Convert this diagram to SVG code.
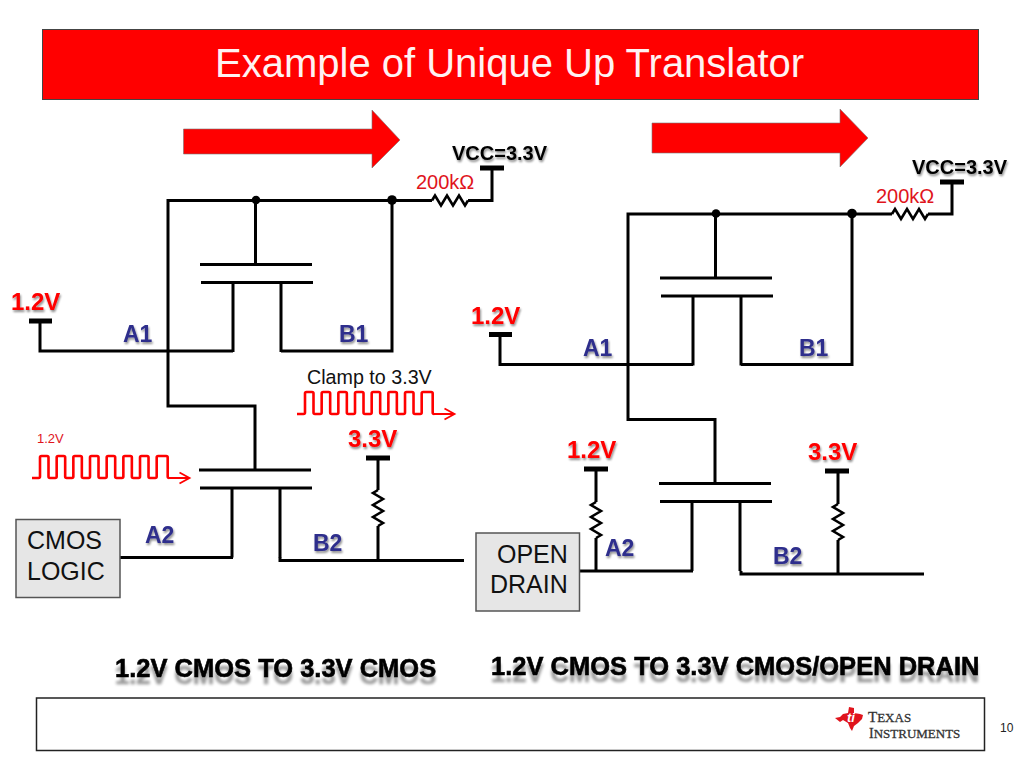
<svg xmlns="http://www.w3.org/2000/svg" xmlns:xlink="http://www.w3.org/1999/xlink" width="1024" height="768" viewBox="0 0 1024 768">
<style>
text{font-family:"Liberation Sans",Arial,sans-serif}
.w{fill:none;stroke:#000;stroke-width:3;stroke-linejoin:miter}
.bar{fill:none;stroke:#000;stroke-width:5}
.res{fill:none;stroke:#000;stroke-width:2.6;stroke-linejoin:miter}
.wave{fill:none;stroke:#f00;stroke-width:2.6}
.tip{fill:none;stroke:#f00;stroke-width:1.800}
.arrow{fill:#f00;stroke:#777;stroke-width:.6}
.v{font-weight:bold;font-size:24px;fill:#f00;filter:url(#sh)}
.pin{font-weight:bold;font-size:23px;fill:#2e2e8c;filter:url(#sh)}
.vcc{font-weight:bold;font-size:20px;fill:#000;filter:url(#sh)}
.ohm{font-size:20px;fill:#e0141c}
.box{fill:#e6e6e6;stroke:#555;stroke-width:1.5}
.lbl{font-size:25px;fill:#111}
.cap{font-weight:bold;font-size:25.5px;fill:#000;stroke:#000;stroke-width:.6;filter:url(#ref)}
.ti{font-family:"Liberation Serif",serif;fill:#333;stroke:#333;stroke-width:.3}
</style>
<defs>
<filter id="sh" x="-10%" y="-20%" width="125%" height="150%"><feGaussianBlur in="SourceAlpha" stdDeviation="1"/><feOffset dx="1" dy="1.5"/><feComponentTransfer><feFuncA type="linear" slope=".45"/></feComponentTransfer><feMerge><feMergeNode/><feMergeNode in="SourceGraphic"/></feMerge></filter>
<filter id="ref" x="-5%" y="-20%" width="110%" height="170%"><feGaussianBlur in="SourceAlpha" stdDeviation="1.6"/><feOffset dy="7"/><feComponentTransfer><feFuncA type="linear" slope=".4"/></feComponentTransfer><feMerge><feMergeNode/><feMergeNode in="SourceGraphic"/></feMerge></filter>
<path id="rh" class="res" d="M0 0L3 -5L9 5L15 -5L21 5L27 -5L33 5L36 0"/>
<path id="rv" class="res" d="M0 0L-5 3L5 9L-5 15L5 21L-5 27L5 33L0 36"/>
<g id="sq"><path class="wave" d="M0 22h6.5q1.500 0 1.500-1.500v-19q0-1.500 1.500-1.500h5.500q1.500 0 1.500 1.500v19q0 1.500 1.500 1.500h5.170q1.500 0 1.500-1.500v-19q0-1.500 1.500-1.500h5.500q1.500 0 1.500 1.500v19q0 1.500 1.500 1.500h5.170q1.500 0 1.500-1.500v-19q0-1.500 1.500-1.500h5.500q1.500 0 1.500 1.500v19q0 1.500 1.500 1.500h5.170q1.500 0 1.500-1.500v-19q0-1.500 1.500-1.500h5.500q1.500 0 1.500 1.500v19q0 1.500 1.500 1.500h5.170q1.500 0 1.500-1.500v-19q0-1.500 1.500-1.500h5.500q1.500 0 1.500 1.500v19q0 1.500 1.500 1.500h5.170q1.500 0 1.500-1.500v-19q0-1.500 1.500-1.500h5.500q1.500 0 1.500 1.500v19q0 1.500 1.500 1.500h5.170q1.500 0 1.500-1.500v-19q0-1.500 1.500-1.500h5.500q1.500 0 1.500 1.500v19q0 1.500 1.500 1.500h5.170q1.500 0 1.500-1.500v-19q0-1.500 1.500-1.500h8q1.500 0 1.500 1.500v19q0 1.500 1.500 1.500"/><path class="tip" d="M137 22H157.500M147.500 16.500l10 5.500-10 5.500"/></g>
<g id="fet"><path class="w" d="M-55 0H57M-54 18H58M-22 18V87.500M26 18V87.500"/></g>
</defs>
<rect id="title-bar" x="42.500" y="29.500" width="936" height="70" fill="#f00" stroke="#444" stroke-width="1"/>
<text x="215" y="77" font-size="40" fill="#fff2f2">Example of Unique Up Translator</text>
<polygon id="arrow-left" class="arrow" points="183.500,129 372,129 372,110 400,140 372,168 372,154 183.500,154"/>
<polygon id="arrow-right" class="arrow" points="652,123 840,123 840,109 868,138 840,167 840,153 652,153"/>
<g id="connectors">
<path class="w" d="M392 200.500H168V406H255V469M255.500 200.500V264M392 200.500V351H281M233 351H40V321"/>
<use xlink:href="#fet" x="255" y="264.500"/>
<path class="w" d="M392 200.500H432M468 200.500H492V168"/>
<use xlink:href="#rh" x="432" y="200.500"/>
<path class="bar" d="M480 168H504M29 321H52M366 458H390"/>
<use xlink:href="#fet" x="254" y="470"/>
<path class="w" d="M120 557.500H233M280 557V560.500H464M378 458V490M378 526V560.500"/>
<use xlink:href="#rv" x="378" y="490"/>

<path class="w" d="M852 214H628V419.500H715V483M715.500 214V278M852 214V364.500H741M693 364.500H500V334.500"/>
<use xlink:href="#fet" x="715" y="278"/>
<path class="w" d="M852 214H892M928 214H952V182"/>
<use xlink:href="#rh" x="892" y="214"/>
<path class="bar" d="M940 182H964M489 334.500H512M584 469H608M825 471H849"/>
<use xlink:href="#fet" x="714" y="483.500"/>
<path class="w" d="M579 571H693M741 571V574H924M596 469V502M596 538V571M838 471V504M838 540V574"/>
<use xlink:href="#rv" x="596" y="502"/>
<use xlink:href="#rv" x="838" y="504"/>
<circle cx="256" cy="200" r="4.300"/><circle cx="392" cy="200" r="4.800"/>
<circle cx="716" cy="213.500" r="4.300"/><circle cx="852" cy="213.500" r="4.800"/>
<use xlink:href="#sq" x="297" y="392"/>
<use xlink:href="#sq" x="32" y="456"/>
</g>
<g id="left-labels">
<text class="vcc" x="452" y="160">VCC=3.3V</text>
<text class="ohm" x="416" y="189">200kΩ</text>
<text class="v" x="11" y="310">1.2V</text>
<text class="pin" x="123" y="342">A1</text>
<text class="pin" x="339" y="342">B1</text>
<text x="307" y="384" font-size="19.700" fill="#111">Clamp to 3.3V</text>
<text class="v" x="348" y="447">3.3V</text>
<text x="37" y="443" font-size="13" fill="#e0141c">1.2V</text>
<text class="pin" x="145" y="543">A2</text>
<text class="pin" x="313" y="551">B2</text>
</g>
<g id="right-labels">
<text class="vcc" x="912" y="174">VCC=3.3V</text>
<text class="ohm" x="876" y="203">200kΩ</text>
<text class="v" x="471" y="324">1.2V</text>
<text class="pin" x="583" y="356">A1</text>
<text class="pin" x="799" y="356">B1</text>
<text class="v" x="567" y="458">1.2V</text>
<text class="v" x="808" y="460">3.3V</text>
<text class="pin" x="605" y="556">A2</text>
<text class="pin" x="773" y="564">B2</text>
</g>
<g id="cmos-logic"><rect class="box" x="16" y="519.500" width="104" height="78"/><text class="lbl" x="27" y="549">CMOS</text><text class="lbl" x="27" y="580">LOGIC</text></g>
<g id="open-drain"><rect class="box" x="476" y="533" width="103.500" height="78"/><text class="lbl" x="497" y="563">OPEN</text><text class="lbl" x="490" y="593">DRAIN</text></g>
<text class="cap" x="115" y="677">1.2V CMOS TO 3.3V CMOS</text>
<text class="cap" x="491" y="675">1.2V CMOS TO 3.3V CMOS/OPEN DRAIN</text>
<g id="footer">
<rect x="36.500" y="698" width="948" height="52.500" fill="#fff" stroke="#222" stroke-width="1.500"/>
<polygon fill="#e0141c" points="849,707 854,708 854,713 860,714 863,715 862,719 858,723 854,726 852,731 850,728 848,723 843,720 840,722 835,718 840,717 843,714 848,713"/>
<text x="847" y="722" font-size="13" font-weight="bold" font-style="italic" fill="#fff">ti</text>
<text class="ti" x="868" y="722" font-size="15">T<tspan font-size="13">EXAS</tspan></text>
<text class="ti" x="869" y="738" font-size="14">I<tspan font-size="13">NSTRUMENTS</tspan></text>
<text x="1000" y="732" font-size="12" fill="#222">10</text>
</g>
</svg>
